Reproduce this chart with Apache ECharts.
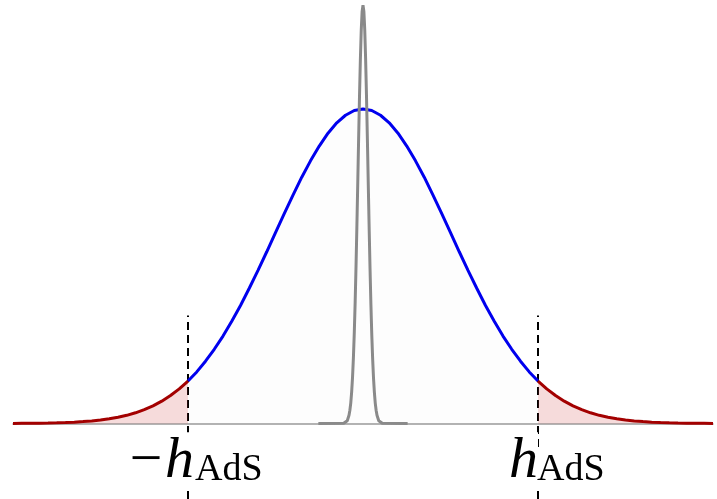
<!DOCTYPE html>
<html>
<head>
<meta charset="utf-8">
<script src="https://cdn.jsdelivr.net/npm/echarts@6/dist/echarts.min.js"></script>
<style>
  html, body { margin: 0; padding: 0; background: #fff; }
  #chart { width: 717px; height: 499px; }
</style>
</head>
<body>
<div id="chart"></div>
<script>
// Broad distribution between the two cut-offs
const coreX = [-2.0, -1.9, -1.8, -1.7, -1.6, -1.5, -1.4, -1.3, -1.2, -1.1, -1.0,
               -0.9, -0.8, -0.7, -0.6, -0.5, -0.4, -0.3, -0.2, -0.1, 0.0,
               0.1, 0.2, 0.3, 0.4, 0.5, 0.6, 0.7, 0.8, 0.9, 1.0,
               1.1, 1.2, 1.3, 1.4, 1.5, 1.6, 1.7, 1.8, 1.9, 2.0];
const coreY = [0.135, 0.164, 0.198, 0.236, 0.278, 0.325, 0.375, 0.430, 0.487, 0.546, 0.607,
               0.667, 0.726, 0.783, 0.835, 0.882, 0.923, 0.956, 0.980, 0.995, 1.000,
               0.995, 0.980, 0.956, 0.923, 0.882, 0.835, 0.783, 0.726, 0.667, 0.607,
               0.546, 0.487, 0.430, 0.375, 0.325, 0.278, 0.236, 0.198, 0.164, 0.135];

// Tails beyond the cut-offs
const leftTailX = [-4.0, -3.9, -3.8, -3.7, -3.6, -3.5, -3.4, -3.3, -3.2, -3.1, -3.0,
                   -2.9, -2.8, -2.7, -2.6, -2.5, -2.4, -2.3, -2.2, -2.1, -2.0];
const leftTailY = [0.0003, 0.0005, 0.0007, 0.0011, 0.0015, 0.0022, 0.0031, 0.0043, 0.0060, 0.0082, 0.011,
                   0.015, 0.020, 0.026, 0.034, 0.044, 0.056, 0.071, 0.089, 0.110, 0.135];
const rightTailX = [2.0, 2.1, 2.2, 2.3, 2.4, 2.5, 2.6, 2.7, 2.8, 2.9, 3.0,
                    3.1, 3.2, 3.3, 3.4, 3.5, 3.6, 3.7, 3.8, 3.9, 4.0];
const rightTailY = [0.135, 0.110, 0.089, 0.071, 0.056, 0.044, 0.034, 0.026, 0.020, 0.015, 0.011,
                    0.0082, 0.0060, 0.0043, 0.0031, 0.0022, 0.0015, 0.0011, 0.0007, 0.0005, 0.0003];

// Narrow peak at the centre
const peakX = [-0.51, -0.22, -0.20, -0.18, -0.16, -0.15, -0.14, -0.13, -0.12, -0.11, -0.10,
               -0.09, -0.08, -0.07, -0.06, -0.05, -0.04, -0.03, -0.02, -0.01, 0.00,
               0.01, 0.02, 0.03, 0.04, 0.05, 0.06, 0.07, 0.08, 0.09, 0.10,
               0.11, 0.12, 0.13, 0.14, 0.15, 0.16, 0.18, 0.20, 0.22, 0.51];
const peakY = [0, 0.001, 0.003, 0.009, 0.026, 0.042, 0.065, 0.099, 0.145, 0.207, 0.285,
               0.382, 0.497, 0.626, 0.764, 0.905, 1.040, 1.158, 1.251, 1.310, 1.330,
               1.310, 1.251, 1.158, 1.040, 0.905, 0.764, 0.626, 0.497, 0.382, 0.285,
               0.207, 0.145, 0.099, 0.065, 0.042, 0.026, 0.009, 0.003, 0.001, 0];

// Cut-off positions and the height of their dashed markers
const cutX = [-2, 2];
const cutTop = 0.343;
const cutBottom = -0.24;

// Cut-off labels
const mainLabels = ['\u2212h', 'h'];
const subLabels = ['AdS', 'AdS'];
const mainLabelY = -0.12;
const subLabelY = -0.147;
const mainOffsets = [[6, 0], [0, 0]];
const subOffsets = [[7, 0], [-1, 0]];

const zip = (xs, ys) => xs.map((x, i) => [x, ys[i]]);

const chart = echarts.init(document.getElementById('chart'), null, { renderer: 'canvas' });

const tailArea = { color: 'rgba(205, 50, 50, 0.25)', origin: 0 };
const tailLine = { color: '#a30000', width: 3 };

chart.setOption({
  animation: false,
  backgroundColor: '#ffffff',
  grid: { left: 13, right: 4, top: 2, bottom: 0 },
  xAxis: {
    type: 'value', min: -4, max: 4,
    axisLine: { show: true, onZero: true, lineStyle: { color: '#9a9a9a', width: 1.5 } },
    axisTick: { show: false }, axisLabel: { show: false }, splitLine: { show: false }
  },
  yAxis: {
    type: 'value', min: cutBottom, max: 1.34, show: false,
    splitLine: { show: false }
  },
  series: [
    {
      name: 'core', type: 'line', data: zip(coreX, coreY),
      showSymbol: false, z: 3,
      lineStyle: { color: '#0000ee', width: 3 },
      areaStyle: { color: 'rgba(0, 0, 0, 0.012)', origin: 0 },
      markLine: {
        silent: true, symbol: 'none', label: { show: false }, z: 1,
        lineStyle: { color: '#000', width: 2, type: [8, 5] },
        data: cutX.map(x => [{ coord: [x, cutBottom] }, { coord: [x, cutTop] }])
      }
    },
    {
      name: 'left tail', type: 'line', data: zip(leftTailX, leftTailY),
      showSymbol: false, z: 4, lineStyle: tailLine, areaStyle: tailArea
    },
    {
      name: 'right tail', type: 'line', data: zip(rightTailX, rightTailY),
      showSymbol: false, z: 4, lineStyle: tailLine, areaStyle: tailArea
    },
    {
      name: 'peak', type: 'line', data: zip(peakX, peakY),
      showSymbol: false, z: 5,
      lineStyle: { color: '#8a8a8a', width: 3 }
    },
    {
      name: 'main labels', type: 'scatter', symbolSize: 0, silent: true, z: 10,
      itemStyle: { opacity: 1 },
      data: cutX.map((x, i) => ({
        value: [x, mainLabelY], name: mainLabels[i],
        label: { offset: mainOffsets[i] }
      })),
      label: {
        show: true, position: 'inside', align: 'right', verticalAlign: 'middle',
        formatter: p => p.name,
        fontFamily: 'Liberation Serif', fontStyle: 'italic', fontSize: 58,
        color: '#000000', opacity: 1, textBorderWidth: 0,
        backgroundColor: '#fff', padding: [0, 0, 0, 0]
      }
    },
    {
      name: 'sub labels', type: 'scatter', symbolSize: 0, silent: true, z: 11,
      itemStyle: { opacity: 1 },
      data: cutX.map((x, i) => ({
        value: [x, subLabelY], name: subLabels[i],
        label: { offset: subOffsets[i] }
      })),
      label: {
        show: true, position: 'inside', align: 'left', verticalAlign: 'middle',
        formatter: p => p.name,
        fontFamily: 'Liberation Serif', fontSize: 38,
        color: '#000000', opacity: 1, textBorderWidth: 0,
        backgroundColor: '#fff', padding: [0, 0, 0, 0]
      }
    }
  ]
});
</script>
</body>
</html>
